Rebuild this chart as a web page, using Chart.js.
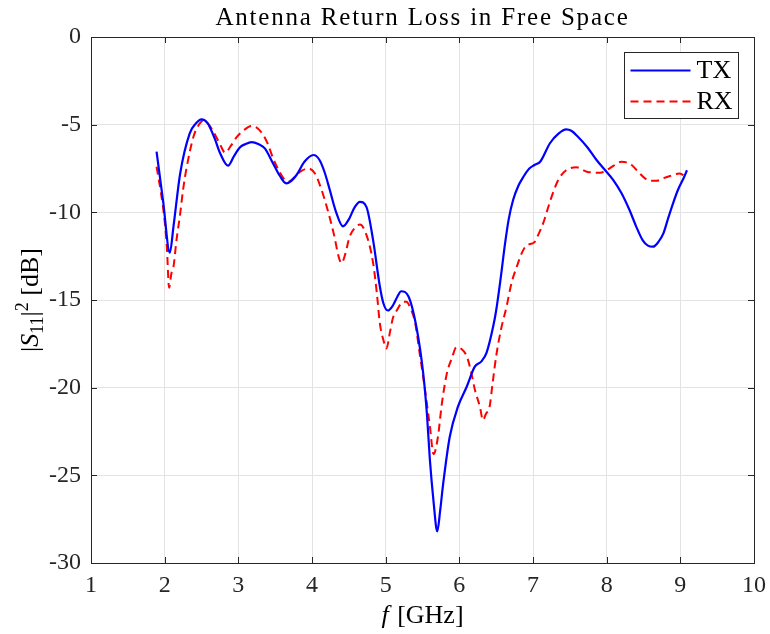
<!DOCTYPE html>
<html>
<head>
<meta charset="utf-8">
<script src="https://cdn.jsdelivr.net/npm/chart.js@4/dist/chart.umd.min.js"></script>
<style>
html,body{margin:0;padding:0;background:#fff;}
#wrap{width:770px;height:634px;position:relative;}
</style>
</head>
<body>
<div id="wrap"><canvas id="c" width="770" height="634"></canvas></div>
<script>
// ---- Data ----
const chartTitle = "Antenna Return Loss in Free Space";
const seriesNames = ["TX", "RX"];
const xTickRange = [1, 10];
const yTickRange = [-30, 0];

const txFreq = [1.89,1.98,2.07,2.12,2.21,2.34,2.42,2.50,2.58,2.68,2.75,2.86,2.94,3.02,3.10,3.18,3.27,3.36,3.47,3.56,3.65,3.72,3.79,3.90,4.02,4.10,4.17,4.24,4.32,4.42,4.50,4.58,4.65,4.74,4.83,4.92,4.97,5.03,5.10,5.16,5.21,5.31,5.42,5.51,5.56,5.60,5.65,5.70,5.74,5.78,5.87,5.98,6.10,6.21,6.30,6.37,6.46,6.50,6.56,6.62,6.67,6.73,6.80,6.87,6.95,7.02,7.10,7.23,7.35,7.45,7.52,7.61,7.74,7.86,7.98,8.09,8.20,8.31,8.40,8.49,8.56,8.63,8.70,8.77,8.83,8.90,8.97,9.05,9.09];
const txDb   = [-6.54,-9.4,-12.3,-10.8,-7.8,-5.5,-4.95,-4.7,-4.9,-5.8,-6.6,-7.34,-6.8,-6.3,-6.1,-6.0,-6.1,-6.35,-7.2,-7.9,-8.35,-8.2,-7.87,-7.1,-6.73,-7.0,-7.7,-8.7,-9.9,-10.8,-10.4,-9.7,-9.4,-9.7,-11.6,-14.2,-15.2,-15.6,-15.3,-14.8,-14.5,-14.8,-16.6,-19.2,-21.5,-24.1,-26.5,-28.2,-27.0,-25.5,-22.8,-21.1,-19.95,-18.8,-18.5,-18.0,-16.5,-15.6,-13.8,-11.8,-10.4,-9.3,-8.5,-7.97,-7.5,-7.3,-7.1,-6.06,-5.5,-5.27,-5.35,-5.69,-6.3,-7.0,-7.6,-8.16,-8.9,-9.87,-10.8,-11.6,-11.9,-11.96,-11.7,-11.2,-10.4,-9.5,-8.7,-8.0,-7.6];

const rxFreq = [1.89,1.95,2.00,2.03,2.06,2.09,2.12,2.16,2.21,2.25,2.30,2.39,2.45,2.52,2.60,2.70,2.76,2.82,2.90,2.98,3.08,3.18,3.26,3.34,3.40,3.47,3.56,3.62,3.68,3.76,3.85,3.95,4.04,4.12,4.20,4.30,4.36,4.40,4.45,4.51,4.58,4.65,4.74,4.83,4.88,4.92,4.97,5.01,5.06,5.10,5.15,5.24,5.28,5.34,5.40,5.46,5.53,5.60,5.65,5.71,5.76,5.83,5.90,5.96,6.03,6.10,6.16,6.21,6.28,6.32,6.36,6.41,6.45,6.50,6.57,6.64,6.71,6.78,6.85,6.91,7.02,7.08,7.14,7.20,7.27,7.35,7.45,7.59,7.73,7.91,8.04,8.13,8.20,8.27,8.34,8.43,8.52,8.60,8.68,8.77,8.86,8.99,9.09];
const rxDb   = [-7.4,-8.9,-10.5,-12.0,-14.3,-13.5,-13.1,-11.6,-10.1,-8.7,-7.4,-5.7,-5.1,-4.77,-5.0,-5.7,-6.2,-6.6,-6.2,-5.7,-5.3,-5.08,-5.2,-5.6,-6.1,-6.9,-7.7,-8.1,-8.25,-8.0,-7.65,-7.5,-7.78,-8.6,-9.68,-11.3,-12.5,-12.9,-12.4,-11.4,-10.9,-10.7,-11.3,-12.9,-14.6,-16.3,-17.3,-17.76,-16.8,-16.0,-15.6,-15.1,-15.1,-15.5,-16.3,-18.0,-20.0,-22.2,-23.8,-22.8,-21.0,-19.2,-18.3,-17.7,-17.8,-18.2,-19.1,-20.1,-21.1,-21.85,-21.5,-21.1,-19.8,-18.2,-16.6,-15.4,-14.0,-13.1,-12.3,-11.9,-11.7,-11.2,-10.6,-9.8,-8.9,-8.1,-7.6,-7.43,-7.68,-7.74,-7.49,-7.25,-7.11,-7.15,-7.3,-7.7,-8.06,-8.2,-8.2,-8.05,-7.93,-7.78,-8.06];

// ---- Styling ----
const SERIF = "'Liberation Serif', 'DejaVu Serif', serif";
const AXIS_COLOR = "#262626";
const GRID_COLOR = "#e3e3e3";

function toPoints(xs, ys){ return xs.map((x,i)=>({x:x, y:ys[i]})); }

const decorPlugin = {
  id: 'decor',
  afterDraw(chart){
    const ctx = chart.ctx;
    const a = chart.chartArea;
    const xs = chart.scales.x, ys = chart.scales.y;
    ctx.save();
    // box
    ctx.strokeStyle = AXIS_COLOR;
    ctx.lineWidth = 1;
    ctx.strokeRect(Math.round(a.left)+0.5, Math.round(a.top)+0.5, Math.round(a.right-a.left), Math.round(a.bottom-a.top));
    // inward ticks
    const tl = 6;
    ctx.beginPath();
    xs.ticks.forEach(t=>{
      const px = Math.round(xs.getPixelForValue(t.value))+0.5;
      ctx.moveTo(px, a.bottom); ctx.lineTo(px, a.bottom-tl);
      ctx.moveTo(px, a.top); ctx.lineTo(px, a.top+tl);
    });
    ys.ticks.forEach(t=>{
      const py = Math.round(ys.getPixelForValue(t.value))+0.5;
      ctx.moveTo(a.left, py); ctx.lineTo(a.left+tl, py);
      ctx.moveTo(a.right, py); ctx.lineTo(a.right-tl, py);
    });
    ctx.stroke();

    // title
    ctx.fillStyle = "#000";
    ctx.font = "25px " + SERIF;
    ctx.textAlign = "center";
    ctx.textBaseline = "alphabetic";
    try { ctx.letterSpacing = "1.8px"; } catch(e) {}
    ctx.fillText(chartTitle, (a.left+a.right)/2, 25);
    try { ctx.letterSpacing = "0px"; } catch(e) {}

    // x-axis title: italic f + [GHz]
    const cx = (a.left+a.right)/2;
    const xb = 623;
    ctx.textAlign = "left";
    ctx.font = "italic 26px " + SERIF;
    const p1 = "f";
    const w1 = ctx.measureText(p1).width;
    ctx.font = "26px " + SERIF;
    const p2 = " [GHz]";
    const w2 = ctx.measureText(p2).width;
    let sx = cx - (w1+w2+2)/2;
    ctx.font = "italic 26px " + SERIF;
    ctx.fillText(p1, sx, xb);
    ctx.font = "26px " + SERIF;
    ctx.fillText(p2, sx+w1+2, xb);

    // y-axis title: |S11|^2 [dB]
    const segs = [
      {t:"|", f:"26px "+SERIF, dy:0},
      {t:"S", f:"italic 26px "+SERIF, dy:0},
      {t:"11", f:"18px "+SERIF, dy:5},
      {t:"|", f:"26px "+SERIF, dy:0},
      {t:"2", f:"18px "+SERIF, dy:-10},
      {t:" [dB]", f:"26px "+SERIF, dy:0}
    ];
    let tot = 0;
    segs.forEach(s=>{ ctx.font = s.f; s.w = ctx.measureText(s.t).width; tot += s.w; });
    ctx.save();
    ctx.translate(38, (a.top+a.bottom)/2);
    ctx.rotate(-Math.PI/2);
    let ox = -tot/2;
    segs.forEach(s=>{ ctx.font = s.f; ctx.fillText(s.t, ox, s.dy); ox += s.w; });
    ctx.restore();

    // legend
    const lx = 624.5, ly = 52.5, lw = 114, lh = 66;
    ctx.fillStyle = "#fff";
    ctx.fillRect(lx, ly, lw, lh);
    ctx.strokeStyle = AXIS_COLOR;
    ctx.lineWidth = 1;
    ctx.setLineDash([]);
    ctx.strokeRect(lx, ly, lw, lh);
    chart.data.datasets.forEach((ds, i)=>{
      const yy = ly + 18 + i*31;
      ctx.strokeStyle = ds.borderColor;
      ctx.lineWidth = 2;
      ctx.setLineDash(ds.borderDash || []);
      ctx.beginPath();
      ctx.moveTo(lx+6, yy); ctx.lineTo(lx+66, yy);
      ctx.stroke();
      ctx.setLineDash([]);
      ctx.fillStyle = "#000";
      ctx.font = "26px " + SERIF;
      ctx.textAlign = "left";
      ctx.textBaseline = "middle";
      ctx.fillText(ds.label, lx+72, yy+1);
    });
    ctx.restore();
  }
};

new Chart(document.getElementById('c'), {
  type: 'line',
  data: {
    datasets: [
      {label: seriesNames[0], data: toPoints(txFreq, txDb), borderColor: '#0000ff', borderWidth: 2.2, pointRadius: 0, fill: false, cubicInterpolationMode: 'monotone'},
      {label: seriesNames[1], data: toPoints(rxFreq, rxDb), borderColor: '#ff0000', borderWidth: 2, borderDash: [8,5], pointRadius: 0, fill: false, cubicInterpolationMode: 'monotone'}
    ]
  },
  options: {
    responsive: false,
    animation: false,
    devicePixelRatio: 1,
    layout: {padding: {top: 37, right: 16, left: 0, bottom: 0}},
    plugins: {legend: {display: false}, title: {display: false}, tooltip: {enabled: false}},
    scales: {
      x: {
        type: 'linear', min: xTickRange[0], max: xTickRange[1],
        ticks: {stepSize: 1, color: AXIS_COLOR, font: {family: SERIF, size: 24}, padding: 8, maxRotation: 0},
        grid: {color: GRID_COLOR, drawTicks: false},
        border: {display: false},
        afterFit(s){ s.height = 71; s.paddingLeft = 0; s.paddingRight = 0; }
      },
      y: {
        type: 'linear', min: yTickRange[0], max: yTickRange[1],
        ticks: {stepSize: 5, color: AXIS_COLOR, font: {family: SERIF, size: 24}, padding: 10},
        grid: {color: GRID_COLOR, drawTicks: false},
        border: {display: false},
        afterFit(s){ s.width = 91; s.paddingTop = 0; s.paddingBottom = 0; }
      }
    }
  },
  plugins: [decorPlugin]
});
</script>
</body>
</html>
